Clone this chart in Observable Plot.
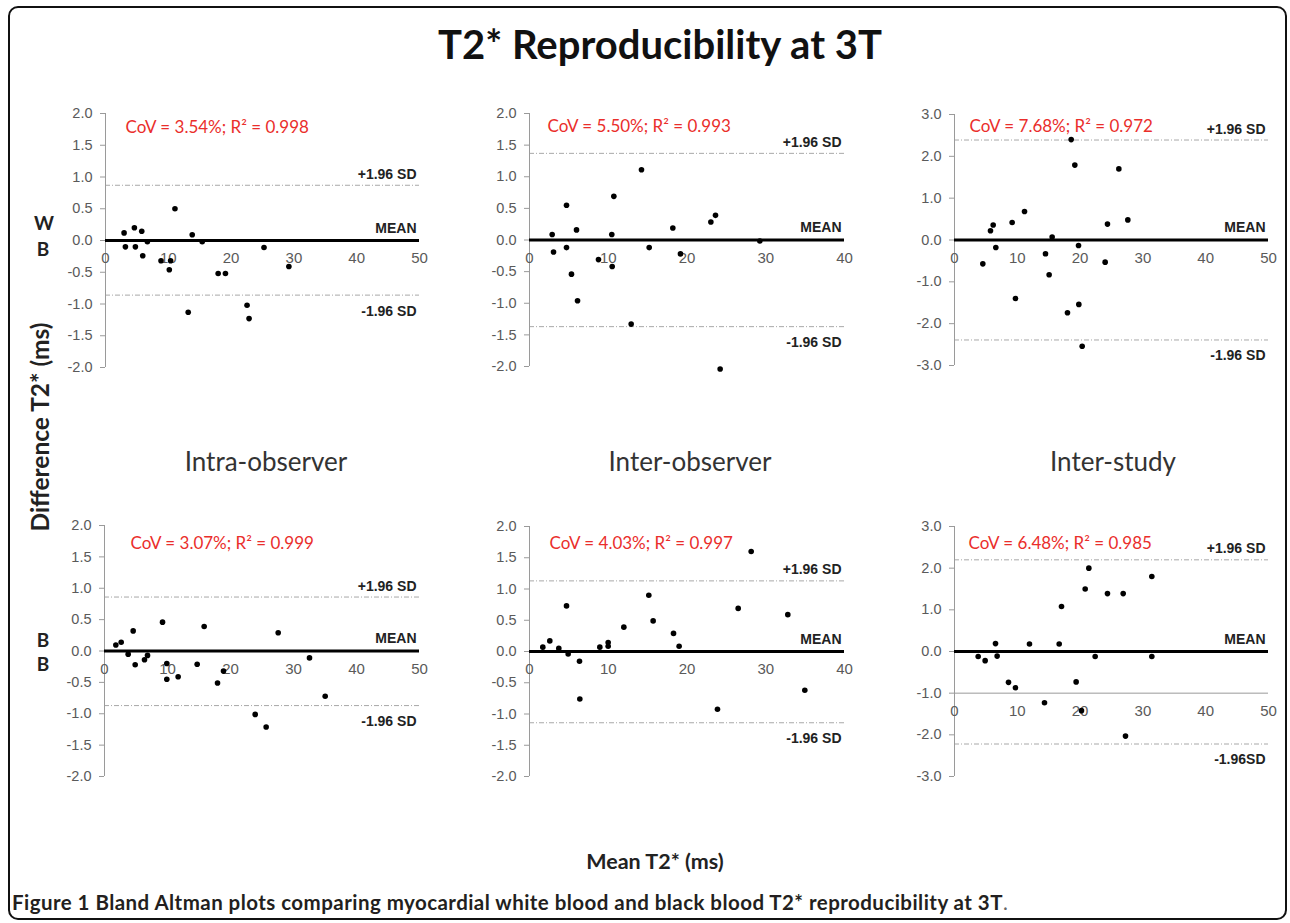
<!DOCTYPE html>
<html>
<head>
<meta charset="utf-8">
<script src="https://cdn.jsdelivr.net/npm/d3@7"></script>
<script src="https://cdn.jsdelivr.net/npm/@observablehq/plot@0.6"></script>
<style>
  html, body { margin: 0; padding: 0; background: #fff; }
  #page { position: relative; width: 1290px; height: 923px; overflow: hidden; font-family: Lato, "Open Sans", sans-serif; }
  .frame { position: absolute; left: 8px; top: 6px; width: 1279px; height: 914px; border: 2px solid #111; border-radius: 10px; box-sizing: border-box; }
  .lbl { position: absolute; white-space: nowrap; line-height: 1; transform: translate(-50%, -50%); }
</style>
</head>
<body>
<div id="page"><div class="frame"></div></div>
<script>
// ---------------- data ----------------
const figureTitle = "T2* Reproducibility at 3T";
const panelTitles = ["Intra-observer", "Inter-observer", "Inter-study"];
const rowLabels = [["W", "B"], ["B", "B"]];
const yTitle = "Difference T2* (ms)";
const xTitle = "Mean T2* (ms)";
const captionBold = "Figure 1 Bland Altman plots comparing myocardial white blood and black blood T2* reproducibility at 3T";

const covTexts = [
  "CoV = 3.54%; R² = 0.998",
  "CoV = 5.50%; R² = 0.993",
  "CoV = 7.68%; R² = 0.972",
  "CoV = 3.07%; R² = 0.999",
  "CoV = 4.03%; R² = 0.997",
  "CoV = 6.48%; R² = 0.985"
];
const xMaxes = [50, 40, 50, 50, 40, 50];
const yMaxes = [2, 2, 3, 2, 2, 3];
const meanDiff = [0, 0, 0, 0, 0, 0];
const upperSD = [0.87, 1.37, 2.39, 0.86, 1.13, 2.2];
const lowerSD = [-0.86, -1.37, -2.39, -0.87, -1.14, -2.22];
const upperLabels = ["+1.96 SD", "+1.96 SD", "+1.96 SD", "+1.96 SD", "+1.96 SD", "+1.96 SD"];
const meanLabels = ["MEAN", "MEAN", "MEAN", "MEAN", "MEAN", "MEAN"];
const lowerLabels = ["-1.96 SD", "-1.96 SD", "-1.96 SD", "-1.96 SD", "-1.96 SD", "-1.96SD"];
const xAxisAt = [0, 0, 0, 0, 0, -1];

const xTicks40 = [0, 10, 20, 30, 40];
const xTicks50 = [0, 10, 20, 30, 40, 50];
const yTicks2 = [-2, -1.5, -1, -0.5, 0, 0.5, 1, 1.5, 2];
const yTicks3 = [-3, -2, -1, 0, 1, 2, 3];

// [mean T2*, difference T2*]
const wbIntraObserver = [
  [2.96, 0.12], [3.17, -0.10], [4.6, 0.20], [4.76, -0.10], [5.77, 0.145],
  [5.93, -0.24], [6.67, -0.02], [8.84, -0.32], [10.37, -0.32], [10.16, -0.46],
  [11.06, 0.50], [13.81, 0.09], [15.4, -0.02], [13.17, -1.13], [17.94, -0.52],
  [19.1, -0.52], [22.54, -1.02], [22.86, -1.23], [25.24, -0.11], [29.2, -0.41]
];
const wbInterObserver = [
  [2.88, 0.086], [3.05, -0.19], [4.70, 0.55], [4.70, -0.12], [5.33, -0.54],
  [5.97, 0.16], [6.10, -0.96], [8.76, -0.31], [10.45, 0.086], [10.5, -0.42],
  [10.71, 0.69], [12.91, -1.33], [14.22, 1.11], [15.2, -0.12], [18.2, 0.19],
  [19.17, -0.22], [23.03, 0.285], [23.62, 0.39], [24.21, -2.04], [29.25, -0.016]
];
const wbInterStudy = [
  [4.51, -0.57], [5.73, 0.22], [6.16, 0.36], [6.58, -0.18], [9.18, 0.42],
  [9.71, -1.40], [11.15, 0.68], [14.49, -0.33], [15.07, -0.83], [15.55, 0.07],
  [17.99, -1.74], [18.58, 2.40], [19.16, 1.79], [19.75, -0.13], [19.8, -1.54],
  [20.33, -2.54], [23.99, -0.53], [24.36, 0.38], [26.17, 1.70], [27.6, 0.48]
];
const bbIntraObserver = [
  [1.80, 0.095], [2.65, 0.14], [3.76, -0.05], [4.55, 0.32], [4.87, -0.22],
  [6.35, -0.14], [6.83, -0.07], [9.21, 0.46], [9.89, -0.20], [9.89, -0.45],
  [11.69, -0.41], [14.71, -0.21], [15.82, 0.39], [17.94, -0.51], [18.89, -0.32],
  [23.92, -1.01], [25.66, -1.21], [27.57, 0.29], [32.54, -0.11], [35.03, -0.72]
];
const bbInterObserver = [
  [1.69, 0.07], [2.58, 0.17], [3.72, 0.05], [4.70, 0.73], [4.91, -0.04],
  [6.35, -0.155], [6.39, -0.76], [8.93, 0.07], [9.99, 0.145], [9.99, 0.085],
  [11.98, 0.39], [15.15, 0.90], [15.70, 0.49], [18.29, 0.29], [19.0, 0.085],
  [23.87, -0.925], [26.5, 0.69], [28.15, 1.60], [32.8, 0.59], [34.96, -0.62]
];
const bbInterStudy = [
  [3.77, -0.12], [4.88, -0.22], [6.53, 0.19], [6.79, -0.11], [8.6, -0.74],
  [9.71, -0.87], [11.94, 0.18], [14.33, -1.23], [16.67, 0.18], [17.04, 1.08],
  [19.37, -0.73], [20.22, -1.42], [20.81, 1.50], [21.39, 2.0], [22.4, -0.12],
  [24.36, 1.39], [26.86, 1.39], [27.23, -2.03], [31.42, 1.80], [31.42, -0.12]
];
const panelData = [wbIntraObserver, wbInterObserver, wbInterStudy, bbIntraObserver, bbInterObserver, bbInterStudy];

// ---------------- layout (pixel placement of each panel frame) ----------------
const layout = [
  { x0: 105, x1: 419, yt: 113, yb: 367, covDx: 20, covDy: 14 },
  { x0: 529, x1: 844, yt: 113, yb: 366, covDx: 18, covDy: 13 },
  { x0: 954, x1: 1268, yt: 114, yb: 365, covDx: 15, covDy: 12 },
  { x0: 104, x1: 419, yt: 525, yb: 776, covDx: 26, covDy: 18 },
  { x0: 529, x1: 844, yt: 526, yb: 776, covDx: 20, covDy: 17 },
  { x0: 954, x1: 1268, yt: 526, yb: 776, covDx: 14, covDy: 17 }
];

const page = document.getElementById("page");
const RED = "#ea2e2b";
const GRAY_TXT = "#5a5a5a";
const GRAY_LINE = "#9a9a9a";
const ARIAL = "'Liberation Sans', Arial, sans-serif";

function makePanel(i) {
  const L = layout[i];
  const mL = 60, mR = 30, mT = 20, mB = 30;
  const w = L.x1 - L.x0 + mL + mR;
  const h = L.yb - L.yt + mT + mB;
  const xm = xMaxes[i];
  const xt = xm === 40 ? xTicks40 : xTicks50;
  const yt = yMaxes[i] === 3 ? yTicks3 : yTicks2;
  const plot = Plot.plot({
    width: w, height: h,
    marginLeft: mL, marginRight: mR, marginTop: mT, marginBottom: mB,
    x: { domain: [0, xm], axis: null },
    y: { domain: [-yMaxes[i], yMaxes[i]], axis: null },
    style: { fontFamily: ARIAL, background: "transparent", overflow: "visible" },
    marks: [
      Plot.ruleY([xAxisAt[i]], { x1: 0, x2: xm, stroke: GRAY_LINE, strokeWidth: 1 }),
      Plot.ruleY([upperSD[i], lowerSD[i]], { x1: 0, x2: xm, stroke: "#a8a8a8", strokeWidth: 1, strokeDasharray: "5,2,1,2" }),
      Plot.axisY(yt, { tickFormat: d => d.toFixed(1), tickSize: 5, tickPadding: 8, stroke: GRAY_LINE, color: GRAY_TXT, fontSize: 14.5, fontFamily: ARIAL, label: null }),
      Plot.ruleX([0], { stroke: GRAY_LINE, strokeWidth: 1 }),
      Plot.text(xt, { x: d => d, y: xAxisAt[i], dy: 18, text: d => String(d), fill: GRAY_TXT, fontSize: 15, fontFamily: ARIAL }),
      Plot.ruleY([meanDiff[i]], { x1: 0, x2: xm, stroke: "#000", strokeWidth: 3 }),
      Plot.dot(panelData[i], { x: d => d[0], y: d => d[1], r: 2.8, fill: "#000", stroke: "none" }),
      Plot.text([upperLabels[i]], { x: xm, y: upperSD[i], text: d => d, textAnchor: "end", dx: -3, dy: -11, fontWeight: "bold", fontSize: 14, fontFamily: ARIAL, fill: "#222" }),
      Plot.text([meanLabels[i]], { x: xm, y: meanDiff[i], text: d => d, textAnchor: "end", dx: -3, dy: -12, fontWeight: "bold", fontSize: 14, fontFamily: ARIAL, fill: "#222" }),
      Plot.text([lowerLabels[i]], { x: xm, y: lowerSD[i], text: d => d, textAnchor: "end", dx: -3, dy: 16, fontWeight: "bold", fontSize: 14, fontFamily: ARIAL, fill: "#222" }),
      Plot.text([covTexts[i]], { frameAnchor: "top-left", textAnchor: "start", lineAnchor: "middle", dx: L.covDx, dy: L.covDy, text: d => d, fill: RED, fontSize: 17, fontFamily: "Lato, 'Open Sans', sans-serif" })
    ]
  });
  plot.style.position = "absolute";
  plot.style.left = (L.x0 - mL) + "px";
  plot.style.top = (L.yt - mT) + "px";
  page.appendChild(plot);
}
for (let i = 0; i < 6; i++) makePanel(i);

function label(text, cx, cy, css) {
  const d = document.createElement("div");
  d.className = "lbl";
  d.textContent = text;
  d.style.left = cx + "px";
  d.style.top = cy + "px";
  Object.assign(d.style, css || {});
  page.appendChild(d);
  return d;
}

label(figureTitle, 660, 44, { fontSize: "40px", fontWeight: "700", color: "#111" });
const titleX = [266, 690, 1113];
panelTitles.forEach((t, k) => label(t, titleX[k], 461, { fontSize: "26px", color: "#333" }));
label(rowLabels[0][0], 44, 222, { fontSize: "19px", fontWeight: "700", color: "#222" });
label(rowLabels[0][1], 43, 248, { fontSize: "19px", fontWeight: "700", color: "#222" });
label(rowLabels[1][0], 43, 639, { fontSize: "19px", fontWeight: "700", color: "#222" });
label(rowLabels[1][1], 43, 663, { fontSize: "19px", fontWeight: "700", color: "#222" });
const yt = label(yTitle, 40, 427, { fontSize: "24.5px", fontWeight: "700", color: "#222" });
yt.style.transform = "translate(-50%, -50%) rotate(-90deg)";
label(xTitle, 655, 862, { fontSize: "21.5px", fontWeight: "700", color: "#222" });

const cap = document.createElement("div");
cap.style.cssText = "position:absolute;left:12px;top:891px;white-space:nowrap;font-size:20.5px;letter-spacing:0.45px;line-height:22px;color:#231f20;font-weight:700;";
const capB = document.createElement("span");
capB.textContent = captionBold;
const capDot = document.createElement("span");
capDot.textContent = ".";
capDot.style.fontWeight = "400";
capDot.style.color = "#666";
cap.appendChild(capB);
cap.appendChild(capDot);
page.appendChild(cap);
</script>
</body>
</html>
